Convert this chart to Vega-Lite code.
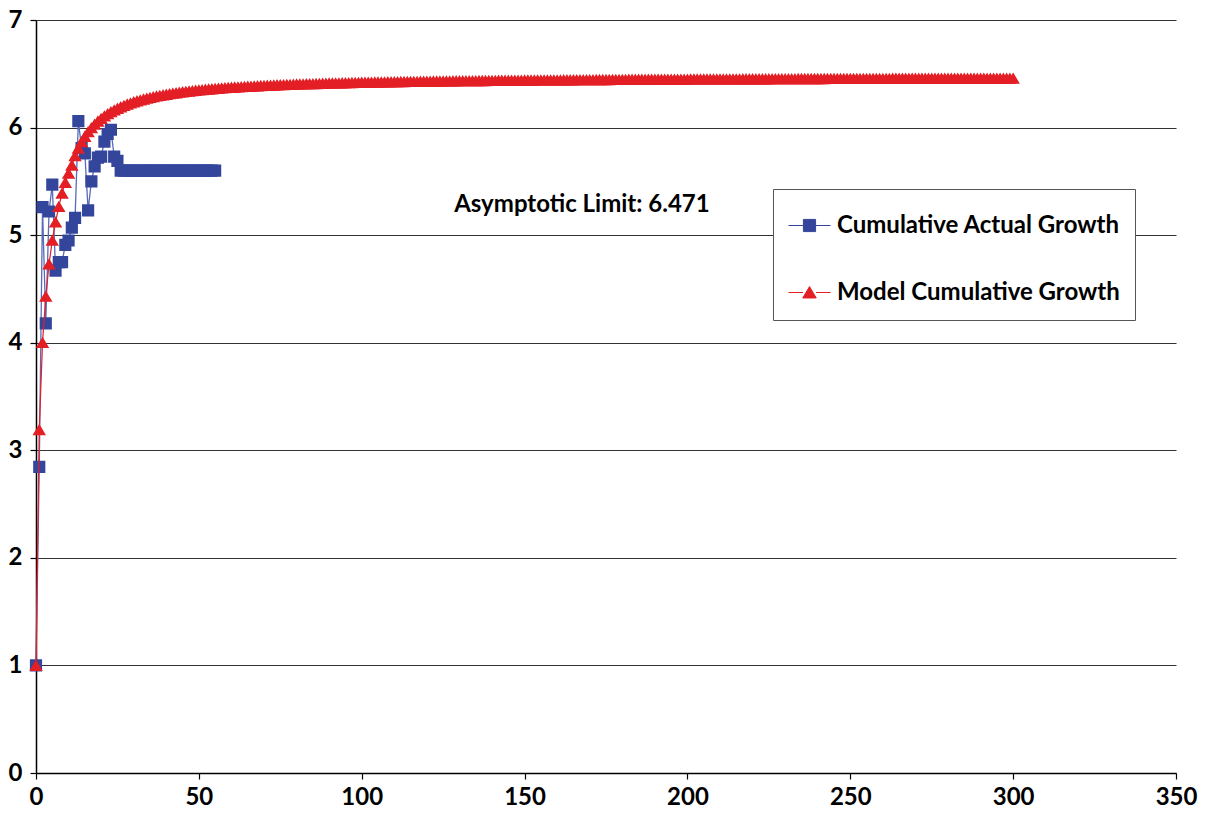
{
"$schema":"https://vega.github.io/schema/vega-lite/v6.json",
"width":1140,"height":753,"autosize":{"type":"none"},
"padding":{"left":36,"top":20,"right":36,"bottom":48},
"background":"#ffffff",
"config":{"view":{"stroke":null},
"axis":{"labelFont":"Lato","labelFontSize":24,"labelFontWeight":"bold","labelColor":"#000","labelFlush":false,"domainColor":"#000","domainWidth":1.5,"tickColor":"#000","tickSize":6,"tickWidth":1.2,"title":null,"gridColor":"#333","gridWidth":1.2}},
"datasets":{
"actual":[{"t":0,"v":1},{"t":1,"v":2.845},{"t":2,"v":5.26},{"t":3,"v":4.18},{"t":4,"v":5.22},{"t":5,"v":5.47},{"t":6,"v":4.67},{"t":7,"v":4.75},{"t":8,"v":4.75},{"t":9,"v":4.91},{"t":10,"v":4.95},{"t":11,"v":5.07},{"t":12,"v":5.16},{"t":13,"v":6.06},{"t":14,"v":5.81},{"t":15,"v":5.76},{"t":16,"v":5.23},{"t":17,"v":5.5},{"t":18,"v":5.64},{"t":19,"v":5.72},{"t":20,"v":5.73},{"t":21,"v":5.87},{"t":22,"v":5.94},{"t":23,"v":5.98},{"t":24,"v":5.73},{"t":25,"v":5.69},{"t":26,"v":5.6},{"t":27,"v":5.6},{"t":28,"v":5.6},{"t":29,"v":5.6},{"t":30,"v":5.6},{"t":31,"v":5.6},{"t":32,"v":5.6},{"t":33,"v":5.6},{"t":34,"v":5.6},{"t":35,"v":5.6},{"t":36,"v":5.6},{"t":37,"v":5.6},{"t":38,"v":5.6},{"t":39,"v":5.6},{"t":40,"v":5.6},{"t":41,"v":5.6},{"t":42,"v":5.6},{"t":43,"v":5.6},{"t":44,"v":5.6},{"t":45,"v":5.6},{"t":46,"v":5.6},{"t":47,"v":5.6},{"t":48,"v":5.6},{"t":49,"v":5.6},{"t":50,"v":5.6},{"t":51,"v":5.6},{"t":52,"v":5.6},{"t":53,"v":5.6},{"t":54,"v":5.6},{"t":55,"v":5.6}],
"model":[{"t":0,"v":1},{"t":1,"v":3.191},{"t":2,"v":4.001},{"t":3,"v":4.431},{"t":4,"v":4.731},{"t":5,"v":4.951},{"t":6,"v":5.121},{"t":7,"v":5.265},{"t":8,"v":5.39},{"t":9,"v":5.49},{"t":10,"v":5.575},{"t":11,"v":5.65},{"t":12,"v":5.738},{"t":13,"v":5.808},{"t":14,"v":5.867},{"t":15,"v":5.917},{"t":16,"v":5.96},{"t":17,"v":5.997},{"t":18,"v":6.03},{"t":19,"v":6.059},{"t":20,"v":6.084},
{"t":21,"v":6.107},{"t":22,"v":6.128},{"t":23,"v":6.146},{"t":24,"v":6.163},{"t":25,"v":6.178},{"t":26,"v":6.192},{"t":27,"v":6.205},{"t":28,"v":6.217},{"t":29,"v":6.228},{"t":30,"v":6.238},
{"t":31,"v":6.247},{"t":32,"v":6.256},{"t":33,"v":6.264},{"t":34,"v":6.272},{"t":35,"v":6.279},{"t":36,"v":6.285},{"t":37,"v":6.292},{"t":38,"v":6.298},{"t":39,"v":6.303},{"t":40,"v":6.308},
{"t":41,"v":6.313},{"t":42,"v":6.318},{"t":43,"v":6.322},{"t":44,"v":6.327},{"t":45,"v":6.331},{"t":46,"v":6.334},{"t":47,"v":6.338},{"t":48,"v":6.342},{"t":49,"v":6.345},{"t":50,"v":6.348},
{"t":51,"v":6.351},{"t":52,"v":6.354},{"t":53,"v":6.357},{"t":54,"v":6.359},{"t":55,"v":6.362},{"t":56,"v":6.364},{"t":57,"v":6.367},{"t":58,"v":6.369},{"t":59,"v":6.371},{"t":60,"v":6.373},
{"t":61,"v":6.375},{"t":62,"v":6.377},{"t":63,"v":6.379},{"t":64,"v":6.381},{"t":65,"v":6.382},{"t":66,"v":6.384},{"t":67,"v":6.386},{"t":68,"v":6.387},{"t":69,"v":6.389},{"t":70,"v":6.39},
{"t":71,"v":6.392},{"t":72,"v":6.393},{"t":73,"v":6.394},{"t":74,"v":6.396},{"t":75,"v":6.397},{"t":76,"v":6.398},{"t":77,"v":6.399},{"t":78,"v":6.4},{"t":79,"v":6.401},{"t":80,"v":6.403},
{"t":81,"v":6.404},{"t":82,"v":6.405},{"t":83,"v":6.406},{"t":84,"v":6.407},{"t":85,"v":6.407},{"t":86,"v":6.408},{"t":87,"v":6.409},{"t":88,"v":6.41},{"t":89,"v":6.411},{"t":90,"v":6.412},
{"t":91,"v":6.413},{"t":92,"v":6.414},{"t":93,"v":6.414},{"t":94,"v":6.415},{"t":95,"v":6.416},{"t":96,"v":6.416},{"t":97,"v":6.417},{"t":98,"v":6.418},{"t":99,"v":6.418},{"t":100,"v":6.419},
{"t":101,"v":6.42},{"t":102,"v":6.42},{"t":103,"v":6.421},{"t":104,"v":6.422},{"t":105,"v":6.422},{"t":106,"v":6.423},{"t":107,"v":6.423},{"t":108,"v":6.424},{"t":109,"v":6.424},{"t":110,"v":6.425},
{"t":111,"v":6.425},{"t":112,"v":6.426},{"t":113,"v":6.426},{"t":114,"v":6.427},{"t":115,"v":6.427},{"t":116,"v":6.428},{"t":117,"v":6.428},{"t":118,"v":6.429},{"t":119,"v":6.429},{"t":120,"v":6.43},
{"t":121,"v":6.43},{"t":122,"v":6.431},{"t":123,"v":6.431},{"t":124,"v":6.431},{"t":125,"v":6.432},{"t":126,"v":6.432},{"t":127,"v":6.432},{"t":128,"v":6.433},{"t":129,"v":6.433},{"t":130,"v":6.434},
{"t":131,"v":6.434},{"t":132,"v":6.434},{"t":133,"v":6.435},{"t":134,"v":6.435},{"t":135,"v":6.435},{"t":136,"v":6.436},{"t":137,"v":6.436},{"t":138,"v":6.436},{"t":139,"v":6.437},{"t":140,"v":6.437},
{"t":141,"v":6.437},{"t":142,"v":6.438},{"t":143,"v":6.438},{"t":144,"v":6.438},{"t":145,"v":6.438},{"t":146,"v":6.439},{"t":147,"v":6.439},{"t":148,"v":6.439},{"t":149,"v":6.439},{"t":150,"v":6.44},
{"t":151,"v":6.44},{"t":152,"v":6.44},{"t":153,"v":6.44},{"t":154,"v":6.441},{"t":155,"v":6.441},{"t":156,"v":6.441},{"t":157,"v":6.441},{"t":158,"v":6.442},{"t":159,"v":6.442},{"t":160,"v":6.442},
{"t":161,"v":6.442},{"t":162,"v":6.443},{"t":163,"v":6.443},{"t":164,"v":6.443},{"t":165,"v":6.443},{"t":166,"v":6.444},{"t":167,"v":6.444},{"t":168,"v":6.444},{"t":169,"v":6.444},{"t":170,"v":6.444},
{"t":171,"v":6.444},{"t":172,"v":6.445},{"t":173,"v":6.445},{"t":174,"v":6.445},{"t":175,"v":6.445},{"t":176,"v":6.445},{"t":177,"v":6.446},{"t":178,"v":6.446},{"t":179,"v":6.446},{"t":180,"v":6.446},
{"t":181,"v":6.446},{"t":182,"v":6.447},{"t":183,"v":6.447},{"t":184,"v":6.447},{"t":185,"v":6.447},{"t":186,"v":6.447},{"t":187,"v":6.447},{"t":188,"v":6.448},{"t":189,"v":6.448},{"t":190,"v":6.448},
{"t":191,"v":6.448},{"t":192,"v":6.448},{"t":193,"v":6.448},{"t":194,"v":6.448},{"t":195,"v":6.449},{"t":196,"v":6.449},{"t":197,"v":6.449},{"t":198,"v":6.449},{"t":199,"v":6.449},{"t":200,"v":6.449},
{"t":201,"v":6.45},{"t":202,"v":6.45},{"t":203,"v":6.45},{"t":204,"v":6.45},{"t":205,"v":6.45},{"t":206,"v":6.45},{"t":207,"v":6.45},{"t":208,"v":6.45},{"t":209,"v":6.451},{"t":210,"v":6.451},
{"t":211,"v":6.451},{"t":212,"v":6.451},{"t":213,"v":6.451},{"t":214,"v":6.451},{"t":215,"v":6.451},{"t":216,"v":6.451},{"t":217,"v":6.452},{"t":218,"v":6.452},{"t":219,"v":6.452},{"t":220,"v":6.452},
{"t":221,"v":6.452},{"t":222,"v":6.452},{"t":223,"v":6.452},{"t":224,"v":6.452},{"t":225,"v":6.452},{"t":226,"v":6.453},{"t":227,"v":6.453},{"t":228,"v":6.453},{"t":229,"v":6.453},{"t":230,"v":6.453},
{"t":231,"v":6.453},{"t":232,"v":6.453},{"t":233,"v":6.453},{"t":234,"v":6.454},{"t":235,"v":6.454},{"t":236,"v":6.454},{"t":237,"v":6.454},{"t":238,"v":6.454},{"t":239,"v":6.454},{"t":240,"v":6.454},
{"t":241,"v":6.454},{"t":242,"v":6.454},{"t":243,"v":6.455},{"t":244,"v":6.455},{"t":245,"v":6.455},{"t":246,"v":6.455},{"t":247,"v":6.455},{"t":248,"v":6.455},{"t":249,"v":6.455},{"t":250,"v":6.455},
{"t":251,"v":6.456},{"t":252,"v":6.456},{"t":253,"v":6.456},{"t":254,"v":6.456},{"t":255,"v":6.456},{"t":256,"v":6.456},{"t":257,"v":6.456},{"t":258,"v":6.456},{"t":259,"v":6.456},{"t":260,"v":6.456},
{"t":261,"v":6.456},{"t":262,"v":6.456},{"t":263,"v":6.457},{"t":264,"v":6.457},{"t":265,"v":6.457},{"t":266,"v":6.457},{"t":267,"v":6.457},{"t":268,"v":6.457},{"t":269,"v":6.457},{"t":270,"v":6.457},
{"t":271,"v":6.457},{"t":272,"v":6.457},{"t":273,"v":6.457},{"t":274,"v":6.457},{"t":275,"v":6.457},{"t":276,"v":6.457},{"t":277,"v":6.457},{"t":278,"v":6.457},{"t":279,"v":6.457},{"t":280,"v":6.457},
{"t":281,"v":6.458},{"t":282,"v":6.458},{"t":283,"v":6.458},{"t":284,"v":6.458},{"t":285,"v":6.458},{"t":286,"v":6.458},{"t":287,"v":6.458},{"t":288,"v":6.458},{"t":289,"v":6.458},{"t":290,"v":6.458},
{"t":291,"v":6.458},{"t":292,"v":6.458},{"t":293,"v":6.458},{"t":294,"v":6.458},{"t":295,"v":6.458},{"t":296,"v":6.458},{"t":297,"v":6.458},{"t":298,"v":6.458},{"t":299,"v":6.458},{"t":300,"v":6.458}],
"note":[{"label":"Asymptotic Limit: 6.471"}]
},
"layer":[
{"data":{"name":"actual"},"mark":{"type":"line","color":"#5A6AB8","strokeWidth":1.3},
 "encoding":{"x":{"field":"t","type":"quantitative","scale":{"domain":[0,350],"nice":false},"axis":{"values":[0,50,100,150,200,250,300,350],"format":"d","grid":false,"labelPadding":6}},
 "y":{"field":"v","type":"quantitative","scale":{"domain":[0,7],"nice":false},"axis":{"values":[0,1,2,3,4,5,6,7],"format":"d","grid":true,"labelPadding":8}}}},
{"data":{"name":"actual"},"mark":{"type":"point","filled":true,"opacity":1,"size":1764},
 "encoding":{"x":{"field":"t","type":"quantitative"},"y":{"field":"v","type":"quantitative"},
 "color":{"datum":"Cumulative Actual Growth","scale":{"domain":["Cumulative Actual Growth","Model Cumulative Growth"],"range":["#34469C","#E31E24"]},
   "legend":{"orient":"none","legendX":737,"legendY":169,"title":null,"symbolSize":1764,"labelFont":"Lato","labelFontSize":24,"labelFontWeight":"bold","labelColor":"#000","labelLimit":500,"strokeColor":"#555","fillColor":"#fff","padding":15,"rowPadding":33,"labelOffset":6,"symbolStrokeWidth":1,"symbolOpacity":1,
   "encode":{"symbols":{"update":{"stroke":{"scale":"color","field":"value"},"strokeWidth":{"value":1}}}}}},
 "shape":{"datum":"Cumulative Actual Growth","scale":{"domain":["Cumulative Actual Growth","Model Cumulative Growth"],"range":["M-1,0H-0.29M0.29,0H1M-0.29,-0.29H0.29V0.29H-0.29Z","M-1,0H-0.31M0.31,0H1M0,-0.28L0.32,0.26H-0.32Z"]},
   "legend":{"orient":"none","legendX":737,"legendY":169,"title":null,"symbolSize":1764,"labelFont":"Lato","labelFontSize":24,"labelFontWeight":"bold","labelColor":"#000","labelLimit":500,"strokeColor":"#555","fillColor":"#fff","padding":15,"rowPadding":33,"labelOffset":6,"symbolStrokeWidth":1,"symbolOpacity":1,
   "encode":{"symbols":{"update":{"stroke":{"scale":"color","field":"value"},"strokeWidth":{"value":1}}}}}}}},
{"data":{"name":"model"},"mark":{"type":"line","color":"#E31E24","strokeWidth":1.2},
 "encoding":{"x":{"field":"t","type":"quantitative"},"y":{"field":"v","type":"quantitative"}}},
{"data":{"name":"model"},"mark":{"type":"point","filled":true,"opacity":1,"size":1764},
 "encoding":{"x":{"field":"t","type":"quantitative"},"y":{"field":"v","type":"quantitative"},
 "color":{"datum":"Model Cumulative Growth"},"shape":{"datum":"Model Cumulative Growth"}}},
{"data":{"name":"note"},"mark":{"type":"text","font":"Lato","fontSize":24,"fontWeight":"bold","color":"#000","align":"center","baseline":"middle"},
 "encoding":{"text":{"field":"label"},"x":{"datum":167.6},"y":{"datum":5.28}}}
]
}
